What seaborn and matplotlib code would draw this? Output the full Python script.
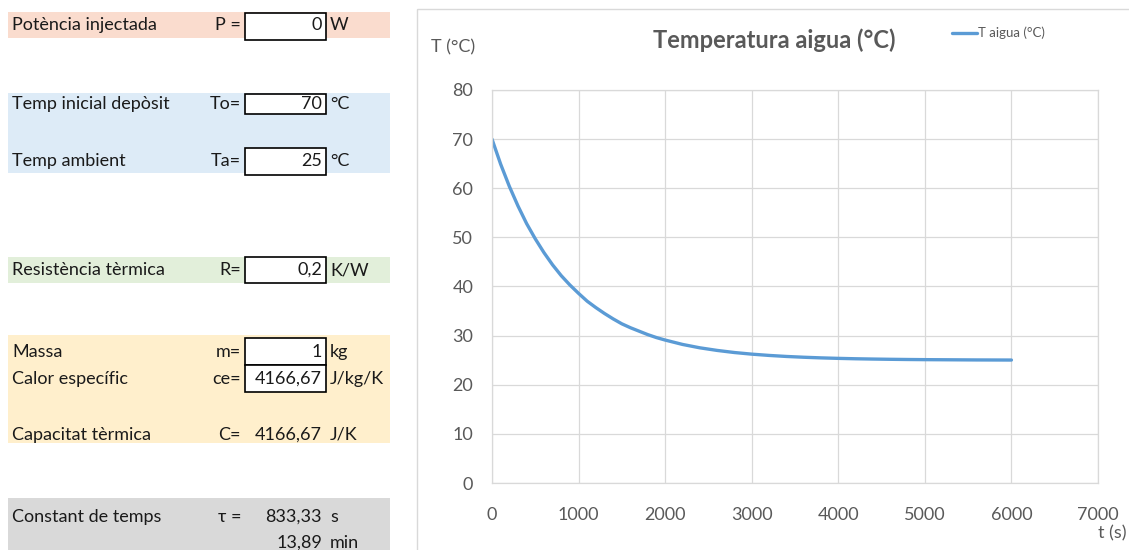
import numpy as np
import pandas as pd
import matplotlib
matplotlib.use("Agg")
import matplotlib.pyplot as plt
from matplotlib.patches import Rectangle
import seaborn as sns

# ---------------- data ----------------
param_labels = ["Potència injectada", "Temp inicial depòsit", "Temp ambient",
                "Resistència tèrmica", "Massa", "Calor específic",
                "Capacitat tèrmica", "Constant de temps", ""]
param_symbols = ["P =", "To=", "Ta=", "R=", "m=", "ce=", "C=", "τ =", ""]
param_values = ["0", "70", "25", "0,2", "1", "4166,67", "4166,67", "833,33", "13,89"]
param_units = ["W", "°C", "°C", "K/W", "kg", "J/kg/K", "J/K", "s", "min"]

time_s = [0, 100, 200, 300, 400, 500, 600, 700, 800, 900, 1000, 1100, 1200, 1300,
          1400, 1500, 1600, 1700, 1800, 1900, 2000, 2200, 2400, 2600, 2800, 3000,
          3200, 3400, 3600, 3800, 4000, 4200, 4400, 4600, 4800, 5000, 5200, 5400,
          5600, 5800, 6000]
temp_c = [70.0, 64.9, 60.4, 56.4, 52.8, 49.7, 46.9, 44.4, 42.2, 40.3, 38.6, 37.0,
          35.7, 34.5, 33.4, 32.4, 31.6, 30.9, 30.2, 29.6, 29.1, 28.21, 27.52, 26.99,
          26.56, 26.23, 25.97, 25.76, 25.60, 25.47, 25.37, 25.29, 25.23, 25.18,
          25.14, 25.11, 25.09, 25.07, 25.05, 25.04, 25.03]
series_name = "T aigua (°C)"
title = "Temperatura aigua (°C)"
x_ticks = [0, 1000, 2000, 3000, 4000, 5000, 6000, 7000]
y_ticks = [0, 10, 20, 30, 40, 50, 60, 70, 80]

# ---------------- style ----------------
sns.set_theme(style="white")
plt.rcParams["font.family"] = ["Lato", "DejaVu Sans"]
W, H = 1129, 550
fig = plt.figure(figsize=(W / 100, H / 100), dpi=100)
fig.patch.set_facecolor("white")

# background overlay in pixel coords
bg = fig.add_axes([0, 0, 1, 1], zorder=0)
bg.set_xlim(0, W)
bg.set_ylim(H, 0)
bg.axis("off")

bands = [("#FADCCE", 12, 38), ("#DDEBF7", 93, 173), ("#E2EFDA", 257, 283),
         ("#FFEFCC", 335, 443), ("#D9D9D9", 498, 552)]
for col, y0, y1 in bands:
    bg.add_patch(Rectangle((8, y0), 382, y1 - y0, facecolor=col, edgecolor="none"))

row_y = [25, 104, 161, 270, 352, 379, 435, 517, 543]
boxes = {0: (13, 40), 1: (94, 114), 2: (148, 175), 3: (257, 283), 4: (338, 365), 5: (365, 392)}
for i, (y0, y1) in boxes.items():
    bg.add_patch(Rectangle((245, y0), 81, y1 - y0, facecolor="white",
                           edgecolor="black", linewidth=1.2))

fs = 13
tc = "#1a1a1a"
for i, y in enumerate(row_y):
    if param_labels[i]:
        bg.text(12, y, param_labels[i], fontsize=fs, va="center", ha="left", color=tc)
    if param_symbols[i]:
        bg.text(241, y, param_symbols[i], fontsize=fs, va="center", ha="right", color=tc)
    bg.text(322, y, param_values[i], fontsize=fs, va="center", ha="right", color=tc)
    bg.text(330, y, param_units[i], fontsize=fs, va="center", ha="left", color=tc)

# chart border
bg.add_patch(Rectangle((417, 9), 720, 560, facecolor="none", edgecolor="#D9D9D9", linewidth=1))

# ---------------- chart ----------------
ax = fig.add_axes([492 / W, (H - 483) / H, 606 / W, 393 / H], zorder=1)
df = pd.DataFrame({"t": time_s, "T": temp_c, "serie": series_name})
sns.lineplot(data=df, x="t", y="T", hue="serie", palette=["#5B9BD5"],
             linewidth=2.4, ax=ax)
ax.set_xlim(0, 7000)
ax.set_ylim(0, 80)
ax.set_xticks(x_ticks)
ax.set_yticks(y_ticks)
ax.grid(True, color="#D9D9D9", linewidth=0.9)
for s in ax.spines.values():
    s.set_color("#D9D9D9")
    s.set_linewidth(0.9)
ax.tick_params(axis="both", length=0, labelsize=13, labelcolor="#595959")
ax.tick_params(axis="x", pad=17)
ax.tick_params(axis="y", pad=13.5)
ax.set_xlabel("")
ax.set_ylabel("")

h, l = ax.get_legend_handles_labels()
ax.get_legend().remove()
fig.legend(h, l, loc="center left", bbox_to_anchor=(952 / W, 1 - 33 / H),
           frameon=False, fontsize=9.5, handlelength=1.9, handletextpad=0.1,
           borderpad=0, borderaxespad=0, labelcolor="#595959")

bg.text(774, 40, title, fontsize=17, fontweight="bold", color="#595959",
        ha="center", va="center")
bg.text(453, 47, "T (°C)", fontsize=13, color="#595959", ha="center", va="center")
bg.text(1112, 533, "t (s)", fontsize=13, color="#595959", ha="center", va="center")

fig.savefig("out.png", dpi=100)
